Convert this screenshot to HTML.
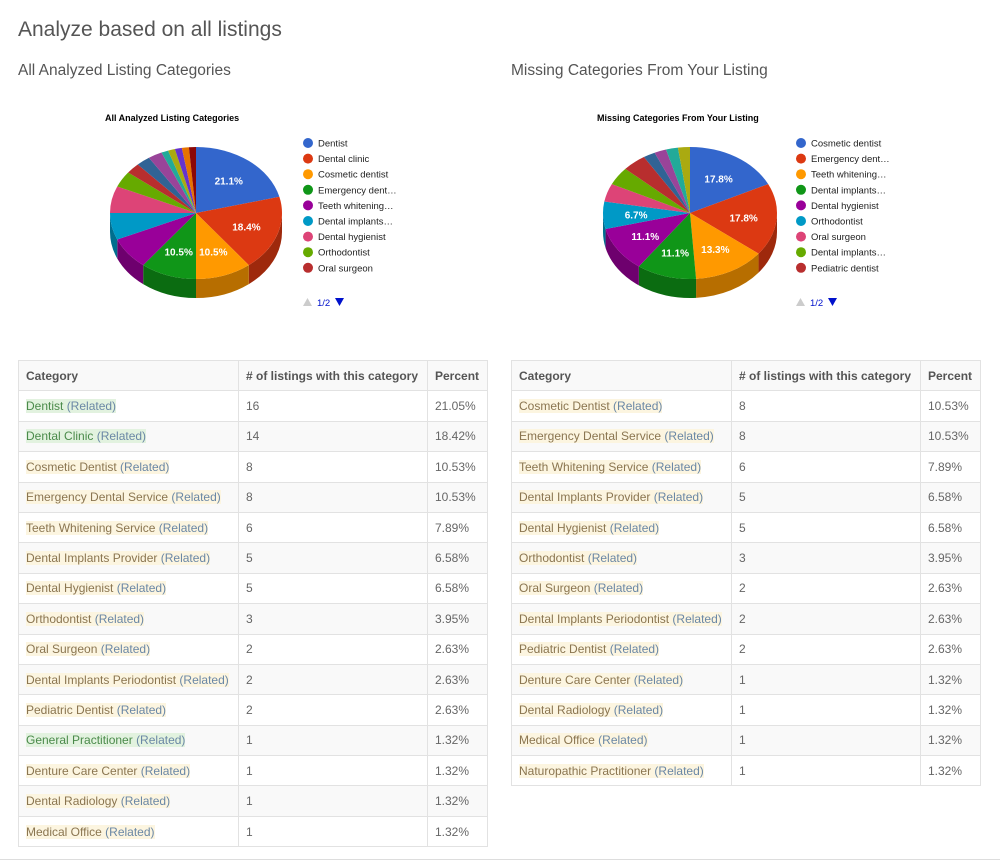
<!DOCTYPE html>
<html><head><meta charset="utf-8">
<style>
body{margin:0;background:#fff;font-family:"Liberation Sans",sans-serif;color:#555;width:1000px;height:862px;position:relative;overflow:hidden}
h1{position:absolute;left:18px;top:18px;margin:0;font-weight:normal;font-size:21px;color:#555}
h2{position:absolute;top:62px;margin:0;font-weight:normal;font-size:15.5px;color:#555}
svg{position:absolute;top:0;left:0}
table{position:absolute;top:360px;border-collapse:collapse;font-size:12px;table-layout:fixed}
td,th{border:1px solid #e2e2e2;height:29.4px;padding:0 7px;text-align:left;white-space:nowrap;color:#666}
th{font-weight:bold;color:#555;background:#f9f9f9}
tbody tr:nth-child(even) td{background:#f9f9f9}
.y{background:#fcf5e0;color:#8a7550}
.g{background:#e2f2df;color:#4a8a4a}
.r{color:#6a87a5}
</style></head><body>
<h1>Analyze based on all listings</h1>
<h2 style="left:18px">All Analyzed Listing Categories</h2>
<h2 style="left:511px">Missing Categories From Your Listing</h2>
<svg id="s" width="1000" height="340" font-family="Liberation Sans, sans-serif"></svg>

<table style="left:18px;width:469px">
<colgroup><col style="width:220px"><col style="width:189px"><col style="width:60px"></colgroup>
<thead><tr><th>Category</th><th># of listings with this category</th><th>Percent</th></tr></thead>
<tbody>
<tr><td><span class="g">Dentist <span class="r">(Related)</span></span></td><td>16</td><td>21.05%</td></tr>
<tr><td><span class="g">Dental Clinic <span class="r">(Related)</span></span></td><td>14</td><td>18.42%</td></tr>
<tr><td><span class="y">Cosmetic Dentist <span class="r">(Related)</span></span></td><td>8</td><td>10.53%</td></tr>
<tr><td><span class="y">Emergency Dental Service <span class="r">(Related)</span></span></td><td>8</td><td>10.53%</td></tr>
<tr><td><span class="y">Teeth Whitening Service <span class="r">(Related)</span></span></td><td>6</td><td>7.89%</td></tr>
<tr><td><span class="y">Dental Implants Provider <span class="r">(Related)</span></span></td><td>5</td><td>6.58%</td></tr>
<tr><td><span class="y">Dental Hygienist <span class="r">(Related)</span></span></td><td>5</td><td>6.58%</td></tr>
<tr><td><span class="y">Orthodontist <span class="r">(Related)</span></span></td><td>3</td><td>3.95%</td></tr>
<tr><td><span class="y">Oral Surgeon <span class="r">(Related)</span></span></td><td>2</td><td>2.63%</td></tr>
<tr><td><span class="y">Dental Implants Periodontist <span class="r">(Related)</span></span></td><td>2</td><td>2.63%</td></tr>
<tr><td><span class="y">Pediatric Dentist <span class="r">(Related)</span></span></td><td>2</td><td>2.63%</td></tr>
<tr><td><span class="g">General Practitioner <span class="r">(Related)</span></span></td><td>1</td><td>1.32%</td></tr>
<tr><td><span class="y">Denture Care Center <span class="r">(Related)</span></span></td><td>1</td><td>1.32%</td></tr>
<tr><td><span class="y">Dental Radiology <span class="r">(Related)</span></span></td><td>1</td><td>1.32%</td></tr>
<tr><td><span class="y">Medical Office <span class="r">(Related)</span></span></td><td>1</td><td>1.32%</td></tr>
</tbody></table>

<table style="left:511px;width:469px">
<colgroup><col style="width:220px"><col style="width:189px"><col style="width:60px"></colgroup>
<thead><tr><th>Category</th><th># of listings with this category</th><th>Percent</th></tr></thead>
<tbody>
<tr><td><span class="y">Cosmetic Dentist <span class="r">(Related)</span></span></td><td>8</td><td>10.53%</td></tr>
<tr><td><span class="y">Emergency Dental Service <span class="r">(Related)</span></span></td><td>8</td><td>10.53%</td></tr>
<tr><td><span class="y">Teeth Whitening Service <span class="r">(Related)</span></span></td><td>6</td><td>7.89%</td></tr>
<tr><td><span class="y">Dental Implants Provider <span class="r">(Related)</span></span></td><td>5</td><td>6.58%</td></tr>
<tr><td><span class="y">Dental Hygienist <span class="r">(Related)</span></span></td><td>5</td><td>6.58%</td></tr>
<tr><td><span class="y">Orthodontist <span class="r">(Related)</span></span></td><td>3</td><td>3.95%</td></tr>
<tr><td><span class="y">Oral Surgeon <span class="r">(Related)</span></span></td><td>2</td><td>2.63%</td></tr>
<tr><td><span class="y">Dental Implants Periodontist <span class="r">(Related)</span></span></td><td>2</td><td>2.63%</td></tr>
<tr><td><span class="y">Pediatric Dentist <span class="r">(Related)</span></span></td><td>2</td><td>2.63%</td></tr>
<tr><td><span class="y">Denture Care Center <span class="r">(Related)</span></span></td><td>1</td><td>1.32%</td></tr>
<tr><td><span class="y">Dental Radiology <span class="r">(Related)</span></span></td><td>1</td><td>1.32%</td></tr>
<tr><td><span class="y">Medical Office <span class="r">(Related)</span></span></td><td>1</td><td>1.32%</td></tr>
<tr><td><span class="y">Naturopathic Practitioner <span class="r">(Related)</span></span></td><td>1</td><td>1.32%</td></tr>
</tbody></table>
<div style="position:absolute;left:0;top:859px;width:1000px;height:1px;background:#ddd"></div>

<script>
var C=["#3366cc","#dc3912","#ff9900","#109618","#990099","#0099c6","#dd4477","#66aa00","#b82e2e","#316395","#994499","#22aa99","#aaaa11","#6633cc","#e67300","#8b0707"];
function dark(h){var n=parseInt(h.slice(1),16),r=(n>>16)*0.72|0,g=((n>>8)&255)*0.72|0,b=(n&255)*0.72|0;return"rgb("+r+","+g+","+b+")";}
var s="";
function pie(cx,cy,rx,ry,d,vals,labels,names,title,tx,lx){
 var tot=vals.reduce(function(a,b){return a+b},0),a=0,sl=[];
 vals.forEach(function(v,i){var a2=a+v/tot*2*Math.PI;sl.push([a,a2,i]);a=a2;});
 function P(t,dy){return [cx+rx*Math.sin(t),cy-ry*Math.cos(t)+(dy||0)];}
 var side="",top="",txt="";
 sl.forEach(function(q){
  var b1=Math.max(q[0],Math.PI/2),b2=Math.min(q[1],1.5*Math.PI);
  if(b2>b1){var p1=P(b1),p2=P(b2),p3=P(b2,d),p4=P(b1,d);
   side+='<path d="M'+p1+' A'+rx+' '+ry+' 0 0 1 '+p2+' L'+p3+' A'+rx+' '+ry+' 0 0 0 '+p4+' Z" fill="'+dark(C[q[2]])+'"/>';}
  var s1=P(q[0]),s2=P(q[1]),lg=(q[1]-q[0])>Math.PI?1:0;
  top+='<path d="M'+cx+','+cy+' L'+s1+' A'+rx+' '+ry+' 0 '+lg+' 1 '+s2+' Z" fill="'+C[q[2]]+'"/>';
  if(labels[q[2]]){var m=(q[0]+q[1])/2,lp=[cx+rx*0.62*Math.sin(m),cy-ry*0.62*Math.cos(m)+4];
   txt+='<text x="'+lp[0]+'" y="'+lp[1]+'" fill="#fff" font-size="10" font-weight="bold" text-anchor="middle">'+labels[q[2]]+'</text>';}
 });
 s+=side+top+txt;
 s+='<text x="'+tx+'" y="121" font-size="9" font-weight="bold" fill="#000">'+title+'</text>';
 names.forEach(function(n,i){var y=143+i*15.6;
  s+='<circle cx="'+(lx+5)+'" cy="'+y+'" r="5" fill="'+C[i]+'"/><text x="'+(lx+15)+'" y="'+(y+3.5)+'" font-size="9.5" fill="#222">'+n+'</text>';});
 s+='<path d="M'+(lx)+',306 l4.5,-8 l4.5,8z" fill="#ccc"/><text x="'+(lx+14)+'" y="306" font-size="9.5" fill="#0011cc">1/2</text><path d="M'+(lx+32)+',298 l9,0 l-4.5,8z" fill="#0011cc"/>';
}
pie(196,213,86,66,19,[16,14,8,8,6,5,5,3,2,2,2,1,1,1,1,1],["21.1%","18.4%","10.5%","10.5%"],
 ["Dentist","Dental clinic","Cosmetic dentist","Emergency dent…","Teeth whitening…","Dental implants…","Dental hygienist","Orthodontist","Oral surgeon"],
 "All Analyzed Listing Categories",105,303);
pie(690,213,87,66,19,[8,8,6,5,5,3,2,2,2,1,1,1,1],["17.8%","17.8%","13.3%","11.1%","11.1%","6.7%"],
 ["Cosmetic dentist","Emergency dent…","Teeth whitening…","Dental implants…","Dental hygienist","Orthodontist","Oral surgeon","Dental implants…","Pediatric dentist"],
 "Missing Categories From Your Listing",597,796);
document.getElementById("s").innerHTML=s;
</script>
</body></html>
